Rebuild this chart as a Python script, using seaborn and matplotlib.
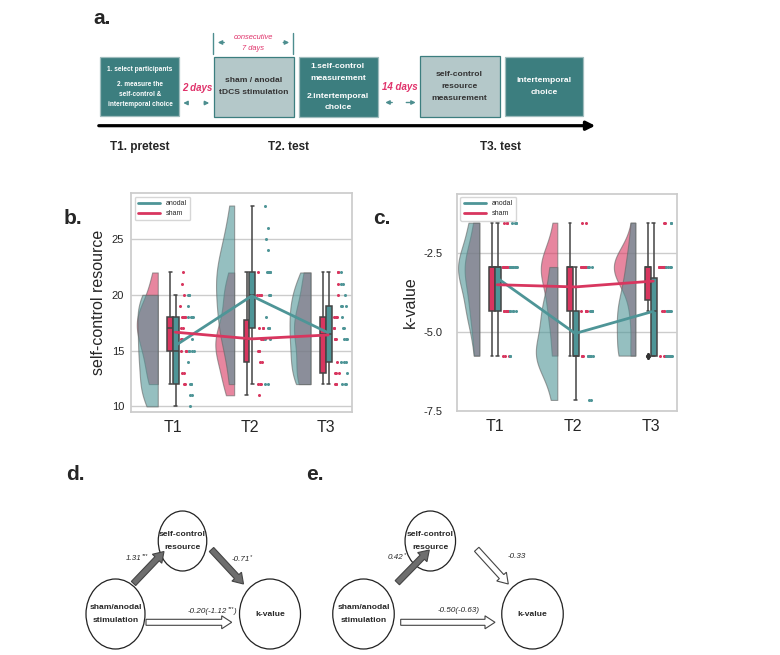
import numpy as np
import pandas as pd
import seaborn as sns
import matplotlib.pyplot as plt
from matplotlib.patches import Rectangle, Ellipse, FancyArrow

# ---- data ----
times = ['T1', 'T2', 'T3']

# panel b: self-control resource score per participant
sc_sham_t1 = [12, 12, 13, 13, 15, 15, 15, 16, 16, 17, 17, 18, 18, 18, 18, 18, 19, 20, 21, 22]
sc_sham_t2 = [11, 12, 12, 12, 14, 14, 15, 15, 15, 16, 16, 16, 17, 17, 17, 20, 20, 20, 20, 22]
sc_sham_t3 = [12, 12, 12, 13, 13, 13, 14, 16, 16, 16, 17, 17, 18, 18, 18, 18, 20, 21, 22, 22]
sc_anodal_t1 = [10, 11, 11, 12, 12, 12, 14, 15, 15, 15, 15, 16, 18, 18, 18, 18, 19, 20, 20, 20]
sc_anodal_t2 = [12, 12, 16, 16, 17, 17, 17, 18, 20, 20, 20, 22, 22, 22, 22, 22, 24, 25, 26, 28]
sc_anodal_t3 = [12, 12, 12, 13, 14, 14, 14, 16, 16, 16, 17, 17, 18, 19, 19, 19, 20, 21, 21, 22]

# panel c: k-value (log scale levels) per participant
k_sham_t1 = [-1.55, -1.55, -1.55, -2.95, -2.95, -2.95, -2.95, -2.95, -2.95, -2.95, -2.95, -2.95,
             -4.35, -4.35, -4.35, -4.35, -4.35, -5.75, -5.75, -5.75]
k_sham_t2 = [-1.55, -1.55, -2.95, -2.95, -2.95, -2.95, -2.95, -2.95, -2.95, -2.95, -2.95, -2.95,
             -4.35, -4.35, -4.35, -4.35, -4.35, -5.75, -5.75, -5.75]
k_sham_t3 = [-1.55, -1.55, -2.95, -2.95, -2.95, -2.95, -2.95, -2.95, -2.95, -2.95, -2.95, -2.95,
             -2.95, -2.95, -2.95, -2.95, -4.35, -4.35, -4.35, -5.75, -5.75, -5.75]
k_anodal_t1 = [-1.55, -1.55, -1.55, -1.55, -2.95, -2.95, -2.95, -2.95, -2.95, -2.95, -2.95, -2.95,
               -2.95, -4.35, -4.35, -4.35, -4.35, -4.35, -5.75, -5.75]
k_anodal_t2 = [-2.95, -2.95, -2.95, -4.35, -4.35, -4.35, -4.35, -4.35, -4.35, -5.75, -5.75, -5.75,
               -5.75, -5.75, -5.75, -5.75, -5.75, -5.75, -7.15, -7.15]
k_anodal_t3 = [-1.55, -1.55, -2.95, -2.95, -2.95, -2.95, -4.35, -4.35, -4.35, -4.35, -4.35, -4.35,
               -4.35, -4.35, -5.75, -5.75, -5.75, -5.75, -5.75, -5.75, -5.75, -5.75]

PINK = '#d8365f'
TEAL = '#4e9597'
pal = {'sham': PINK, 'anodal': TEAL}
DARK = '#3c7e7f'
LIGHT = '#b4c8c9'

sns.set_theme(style='whitegrid')
plt.rcParams['font.family'] = ['Liberation Sans', 'DejaVu Sans']
plt.rcParams['axes.unicode_minus'] = False
np.random.seed(3)


def make_frame(sham, anodal):
    rows = []
    for i, t in enumerate(times):
        for g, vals in (('sham', sham[i]), ('anodal', anodal[i])):
            for v in vals:
                rows.append({'time': t, 'pos': i, 'group': g, 'value': v})
    return pd.DataFrame(rows)


def raincloud(ax, df, ylabel, ypad):
    # half violins on the left
    for g in ['sham', 'anodal']:
        sub = df[df['group'] == g]
        n0 = len(ax.collections)
        sns.violinplot(x=sub['pos'] - 0.2, y=sub['value'], native_scale=True,
                       inner=None, cut=0, width=0.55, color=pal[g], saturation=1,
                       linewidth=0.8, linecolor='#666666', alpha=0.6, ax=ax)
        # keep only the left half of each violin
        for coll in ax.collections[n0:]:
            for path in coll.get_paths():
                v = path.vertices.copy()
                mid = (v[:, 0].min() + v[:, 0].max()) / 2
                v[:, 0] = np.minimum(v[:, 0], mid)
                path.vertices = v
    # boxes in the middle
    sns.boxplot(data=df, x='pos', y='value', hue='group', hue_order=['sham', 'anodal'],
                palette=pal, native_scale=True, width=0.15, gap=0, saturation=1,
                linecolor='#444444', linewidth=1.1, fliersize=3, legend=False,
                flierprops=dict(marker='d', markerfacecolor='#333333',
                                markeredgecolor='#333333'), ax=ax)
    # rain on the right
    for g, off in (('sham', 0.14), ('anodal', 0.235)):
        sub = df[df['group'] == g]
        sns.stripplot(x=sub['pos'] + off, y=sub['value'], native_scale=True, color=pal[g],
                      size=2.2, jitter=0.045, ax=ax)
    # group means
    sns.lineplot(data=df.assign(pos=df['pos'] + 0.03), x='pos', y='value', hue='group',
                 hue_order=['anodal', 'sham'], palette=pal, estimator='mean', errorbar=None,
                 lw=2, zorder=6, ax=ax)
    ax.legend(loc='upper left', fontsize=5, handlelength=3.2, frameon=True,
              borderpad=0.5, labelspacing=0.4)
    ax.set_xticks([0, 1, 2], times)
    ax.set_xlim(-0.55, 2.34)
    ax.set_xlabel('')
    ax.set_ylabel(ylabel, fontsize=11.5)
    ax.tick_params(axis='x', labelsize=11.5, length=0, pad=6)
    ax.tick_params(axis='y', labelsize=8, length=0, pad=ypad)
    ax.xaxis.grid(False)


fig = plt.figure(figsize=(7.8, 6.55), dpi=100)

# drawing canvas in pixel units for the schematic panels
cv = fig.add_axes([0, 0, 1, 1])
cv.set_xlim(0, 780)
cv.set_ylim(655, 0)
cv.axis('off')

# ---- panel a: timeline ----
cv.text(102, 18, 'a.', fontsize=15, fontweight='bold', ha='center', va='center')
boxes = [(100, 57, 79, 59, DARK), (213.5, 57, 80, 60, LIGHT), (298.5, 57, 79, 60, DARK),
         (419.5, 56, 80, 61, LIGHT), (505, 57, 78, 59, DARK)]
for x, y, w, h, c in boxes:
    ec = '#9fbcbd' if c == DARK else DARK
    cv.add_patch(Rectangle((x, y), w, h, fc=c, ec=ec, lw=0.9))

txt_kw = dict(ha='center', va='center', fontweight='bold')
cv.text(140, 69.5, '1. select participants', color='white', fontsize=4.7, **txt_kw)
cv.text(140, 85, '2. measure the', color='white', fontsize=4.7, **txt_kw)
cv.text(140, 94.5, 'self-control &', color='white', fontsize=4.7, **txt_kw)
cv.text(140, 104, 'intertemporal choice', color='white', fontsize=4.7, **txt_kw)
cv.text(253.5, 80.5, 'sham / anodal', color='#333333', fontsize=6.1, **txt_kw)
cv.text(253.5, 92.5, 'tDCS stimulation', color='#333333', fontsize=6.1, **txt_kw)
cv.text(338, 66, '1.self-control', color='white', fontsize=6.1, **txt_kw)
cv.text(338, 79, 'measurement', color='white', fontsize=6.1, **txt_kw)
cv.text(338, 96, '2.intertemporal', color='white', fontsize=6.1, **txt_kw)
cv.text(338, 107.5, 'choice', color='white', fontsize=6.1, **txt_kw)
cv.text(459.5, 75, 'self-control', color='#333333', fontsize=6.1, **txt_kw)
cv.text(459.5, 87, 'resource', color='#333333', fontsize=6.1, **txt_kw)
cv.text(459.5, 99, 'measurement', color='#333333', fontsize=6.1, **txt_kw)
cv.text(544, 80.5, 'intertemporal', color='white', fontsize=6.1, **txt_kw)
cv.text(544, 92.5, 'choice', color='white', fontsize=6.1, **txt_kw)

pink_kw = dict(ha='center', va='center', color='#e0336b', style='italic')
cv.text(197, 88, '2 days', fontsize=7, fontweight='bold', **pink_kw)
cv.text(400, 87, '14 days', fontsize=7, fontweight='bold', **pink_kw)
cv.text(253, 37.5, 'consecutive', fontsize=5.4, **pink_kw)
cv.text(253, 48, '7 days', fontsize=5.4, **pink_kw)

arr = dict(arrowstyle='-|>', color='#4d8e8f', lw=1, mutation_scale=6)
for head, tail in [((180.5, 103), (190, 103)), ((212, 103), (201.5, 103)),
                   ((382.5, 102.5), (395, 102.5)), ((418.5, 102.5), (403.5, 102.5)),
                   ((215, 42.5), (227, 42.5)), ((292, 42.5), (280.5, 42.5))]:
    cv.annotate('', xy=head, xytext=tail, arrowprops=arr)
cv.plot([213.3, 213.3], [33, 53.5], color='#4d8e8f', lw=1)
cv.plot([293.3, 293.3], [33, 53.5], color='#4d8e8f', lw=1)

cv.annotate('', xy=(598, 125.7), xytext=(96, 125.7),
            arrowprops=dict(arrowstyle='-|>', lw=2.3, color='black', mutation_scale=13))
for x, s in [(140, 'T1. pretest'), (289, 'T2. test'), (500, 'T3. test')]:
    cv.text(x, 147, s, fontsize=8.5, fontweight='bold', ha='center', va='center')


# ---- panels d and e: mediation diagrams ----
def node(x, y, w, h, lines):
    cv.add_patch(Ellipse((x, y), w, h, fc='white', ec='#222222', lw=0.9))
    for i, s in enumerate(lines):
        dy = (i - (len(lines) - 1) / 2) * 12.5
        cv.text(x, y + dy, s, fontsize=6.1, fontweight='bold', ha='center', va='center')


def block_arrow(x0, y0, x1, y1, filled):
    fc = '#6e6e6e' if filled else 'white'
    cv.add_patch(FancyArrow(x0, y0, x1 - x0, y1 - y0, width=6, head_width=13, head_length=10,
                            length_includes_head=True, fc=fc, ec='#444444', lw=0.8))


def coef(x, y, base, stars='', tail=''):
    kw = dict(fontsize=5.8, style='italic')
    t = cv.text(x, y, base, ha='left', va='center', **kw)
    if stars:
        s = cv.annotate(stars, xy=(1, 0.9), xycoords=t, ha='left', va='center',
                        fontsize=3.9, style='italic')
        if tail:
            cv.annotate(tail, xy=(1, 0), xycoords=(s, t), ha='left', va='bottom', **kw)


cv.text(75, 475, 'd.', fontsize=15, fontweight='bold', ha='center', va='center')
cv.text(315, 475, 'e.', fontsize=15, fontweight='bold', ha='center', va='center')

node(182.5, 541, 48.5, 60, ['self-control', 'resource'])
node(115.5, 614, 59, 70, ['sham/anodal', 'stimulation'])
node(270, 614, 61, 70, ['k-value'])
block_arrow(133.5, 583.5, 164, 551.5, True)
block_arrow(211.5, 549.5, 243.5, 584, True)
block_arrow(146, 622.3, 231.7, 622.3, False)
coef(126, 558.3, '1.31', '***')
coef(231.7, 559.5, '-0.71', '*')
coef(188, 611.5, '-0.20(-1.12', '***', ')')

node(430.3, 541, 50.5, 60, ['self-control', 'resource'])
node(363.5, 614, 61.5, 70, ['sham/anodal', 'stimulation'])
node(532.5, 614, 61.5, 70, ['k-value'])
block_arrow(397.3, 582.7, 429.3, 550, True)
block_arrow(476.7, 549.3, 508.3, 584, False)
block_arrow(400.7, 622.3, 495, 622.3, False)
coef(388, 557.7, '0.42', '*')
coef(507.5, 556.7, '-0.33')
coef(438, 611, '-0.50(-0.63)')

# ---- panels b and c: raincloud plots ----
ax_b = fig.add_axes([0.168, 0.371, 0.283, 0.334])
df_sc = make_frame([sc_sham_t1, sc_sham_t2, sc_sham_t3],
                   [sc_anodal_t1, sc_anodal_t2, sc_anodal_t3])
raincloud(ax_b, df_sc, 'self-control resource', ypad=5)
ax_b.set_ylim(9.5, 29.1)
ax_b.set_yticks([10, 15, 20, 25])

ax_c = fig.add_axes([0.5855, 0.3725, 0.282, 0.332])
df_k = make_frame([k_sham_t1, k_sham_t2, k_sham_t3],
                  [k_anodal_t1, k_anodal_t2, k_anodal_t3])
raincloud(ax_c, df_k, 'k-value', ypad=10)
ax_c.set_ylim(-7.5, -0.63)
ax_c.set_yticks([-7.5, -5.0, -2.5])
ax_c.set_xlim(-0.49, 2.33)

cv.text(73, 218, 'b.', fontsize=15, fontweight='bold', ha='center', va='center')
cv.text(382, 218, 'c.', fontsize=15, fontweight='bold', ha='center', va='center')

fig.savefig('out.png', dpi=100)
